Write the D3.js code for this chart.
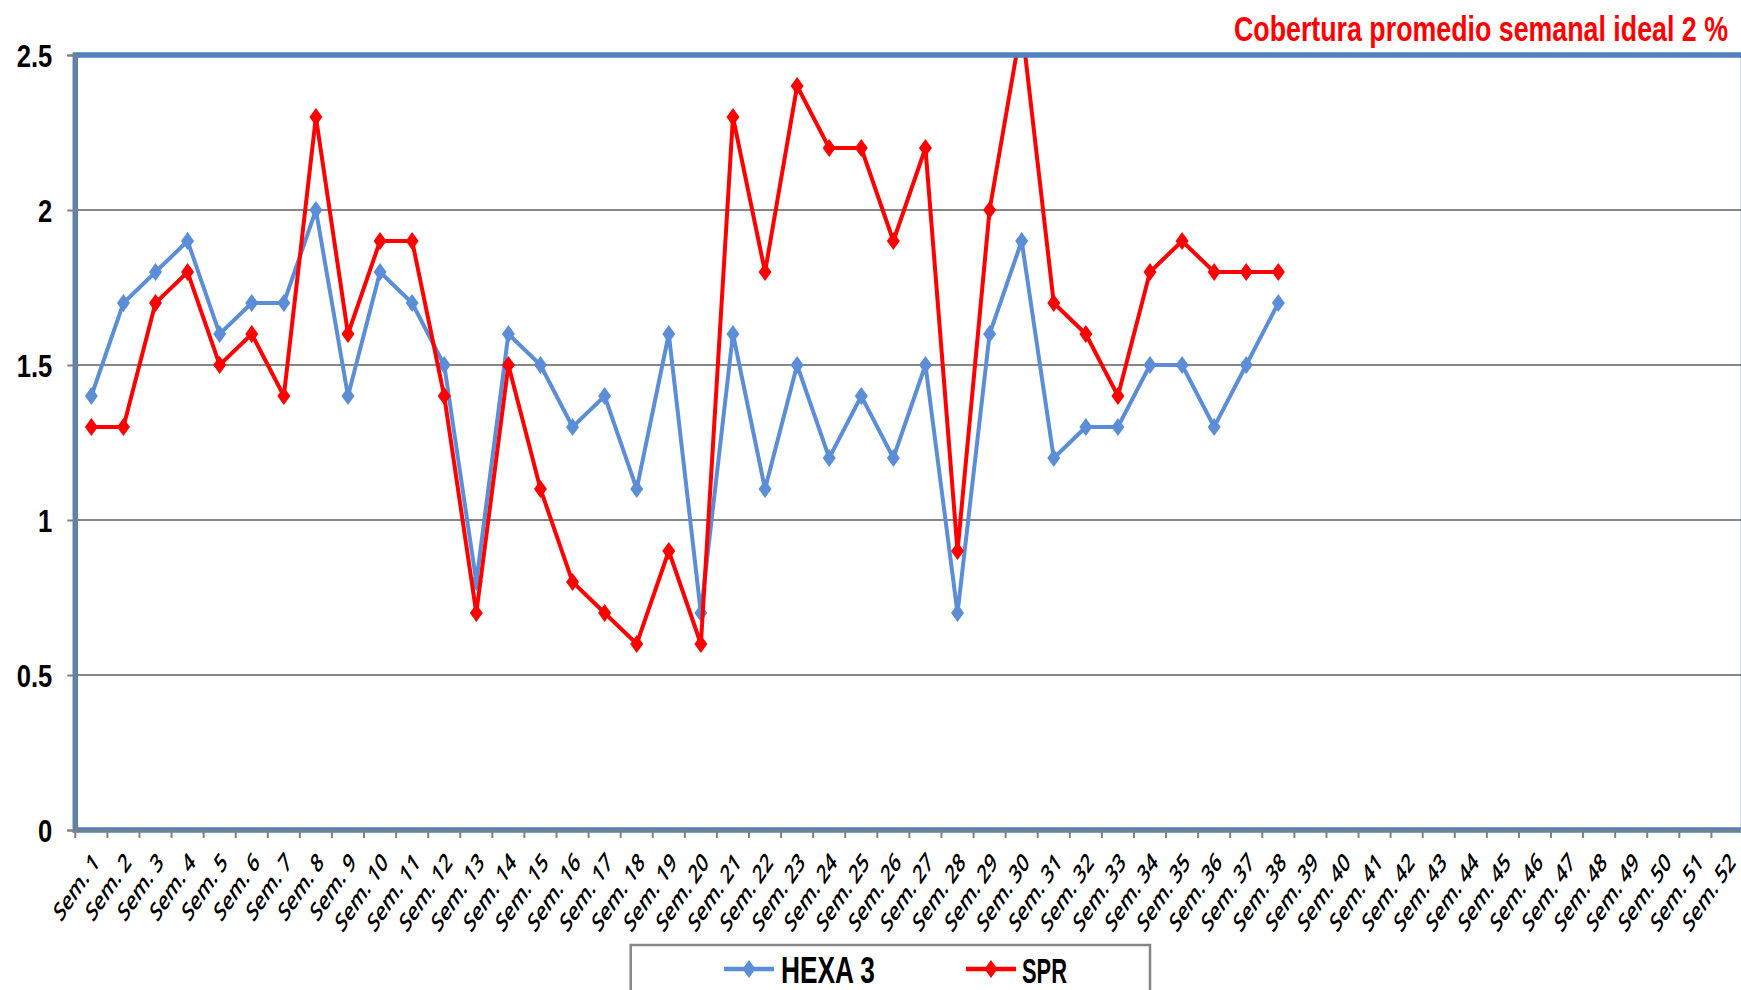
<!DOCTYPE html>
<html><head><meta charset="utf-8">
<script src="https://cdn.jsdelivr.net/npm/d3@7"></script>
<style>body{margin:0;background:#fff;overflow:hidden} svg{display:block}</style>
</head><body><svg id="c" width="1741" height="990"></svg>
<script>
const categories = ["Sem. 1","Sem. 2","Sem. 3","Sem. 4","Sem. 5","Sem. 6","Sem. 7","Sem. 8","Sem. 9","Sem. 10",
"Sem. 11","Sem. 12","Sem. 13","Sem. 14","Sem. 15","Sem. 16","Sem. 17","Sem. 18","Sem. 19","Sem. 20",
"Sem. 21","Sem. 22","Sem. 23","Sem. 24","Sem. 25","Sem. 26","Sem. 27","Sem. 28","Sem. 29","Sem. 30",
"Sem. 31","Sem. 32","Sem. 33","Sem. 34","Sem. 35","Sem. 36","Sem. 37","Sem. 38","Sem. 39","Sem. 40",
"Sem. 41","Sem. 42","Sem. 43","Sem. 44","Sem. 45","Sem. 46","Sem. 47","Sem. 48","Sem. 49","Sem. 50",
"Sem. 51","Sem. 52"];
const hexa3 = [1.4,1.7,1.8,1.9,1.6,1.7,1.7,2.0,1.4,1.8,1.7,1.5,0.8,1.6,1.5,1.3,1.4,1.1,1.6,0.7,
1.6,1.1,1.5,1.2,1.4,1.2,1.5,0.7,1.6,1.9,1.2,1.3,1.3,1.5,1.5,1.3,1.5,1.7];
const spr = [1.3,1.3,1.7,1.8,1.5,1.6,1.4,2.3,1.6,1.9,1.9,1.4,0.7,1.5,1.1,0.8,0.7,0.6,0.9,0.6,
2.3,1.8,2.4,2.2,2.2,1.9,2.2,0.9,2.0,2.6,1.7,1.6,1.4,1.8,1.9,1.8,1.8,1.8];
const yTickValues = [0,0.5,1,1.5,2,2.5];
const seriesNames = ["HEXA 3","SPR"];
const seriesColors = ["#5B8ED6","#FF0000"];
const titleText = "Cobertura promedio semanal ideal 2 %";

const svg = d3.select("#c");
const pL = 75.3, pR = 1743.5, pT = 55, pB = 830;
const x = d3.scaleBand().domain(categories).range([pL, pR]);
const y = d3.scaleLinear().domain([0, 2.5]).range([pB, pT]);
const cx = i => x(categories[i]) + x.bandwidth() / 2;

// fit a text horizontally to a target width, start at x0
function fitText(sel, x0, yb, target) {
  const w = sel.node().getComputedTextLength();
  sel.attr("x", 0).attr("y", 0)
     .attr("transform", `translate(${x0},${yb}) scale(${target / w},1)`);
}

// gridlines
svg.append("g").selectAll("line").data(yTickValues).join("line")
  .attr("x1", pL).attr("x2", pR)
  .attr("y1", d => y(d)).attr("y2", d => y(d))
  .attr("stroke", "#868686").attr("stroke-width", 2);

// clip
svg.append("clipPath").attr("id", "pc").append("rect")
  .attr("x", pL).attr("y", pT).attr("width", pR - pL).attr("height", pB - pT);

// series
const diamond = "M0,-9L6.5,0L0,9L-6.5,0Z";
[hexa3, spr].forEach((vals, si) => {
  const g = svg.append("g").attr("clip-path", "url(#pc)");
  g.append("path").datum(vals)
    .attr("d", d3.line().x((d, i) => cx(i)).y(d => y(d)))
    .attr("fill", "none").attr("stroke", seriesColors[si]).attr("stroke-width", 4)
    .attr("stroke-linejoin", "miter");
  g.selectAll("path.m").data(vals).join("path").attr("class", "m")
    .attr("d", diamond)
    .attr("transform", (d, i) => `translate(${cx(i)},${y(d)})`)
    .attr("fill", seriesColors[si]);
});

// plot border
svg.append("rect").attr("x", pL).attr("y", pT)
  .attr("width", pR - pL).attr("height", pB - pT)
  .attr("fill", "none").attr("stroke", "#4F81BD").attr("stroke-width", 5.5);

// y axis
const ya = svg.append("g").attr("transform", `translate(${pL},0)`)
  .call(d3.axisLeft(y).tickValues(yTickValues).tickSize(8).tickFormat(d => String(d)));
ya.select(".domain").attr("stroke", "#808080").attr("stroke-width", 2);
ya.selectAll(".tick line").attr("stroke", "#808080").attr("stroke-width", 2);
ya.selectAll(".tick text")
  .attr("x", 0).attr("dy", "0.36em")
  .attr("transform", "translate(-23,0) scale(0.8,1)")
  .attr("font-family", "Liberation Sans, Arial, sans-serif")
  .attr("font-weight", "bold").attr("font-size", 32).attr("fill", "#000");

// x axis
const xa = svg.append("g").attr("transform", `translate(0,${pB})`)
  .call(d3.axisBottom(x).tickSize(0));
xa.select(".domain").attr("stroke", "#808080").attr("stroke-width", 2);
xa.selectAll(".tick text")
  .attr("x", 0).attr("y", 0).attr("dy", 0)
  .attr("text-anchor", "end")
  .attr("transform", "translate(9,34) scale(1,1.5) rotate(-45)")
  .attr("font-family", "Open Sans, sans-serif")
  .attr("font-weight", 600).attr("font-size", 17.5).attr("fill", "#000");
// boundary ticks
svg.append("g").selectAll("line").data(categories.concat(["__end"])).join("line")
  .attr("x1", (d, i) => i < categories.length ? x(d) : pR)
  .attr("x2", (d, i) => i < categories.length ? x(d) : pR)
  .attr("y1", pB).attr("y2", pB + 8)
  .attr("stroke", "#808080").attr("stroke-width", 2);

// title
const tt = svg.append("text")
  .attr("font-family", "Liberation Sans, Arial, sans-serif")
  .attr("font-weight", "bold").attr("font-size", 35).attr("fill", "#FF0000")
  .text(titleText);
fitText(tt, 1234, 41, 494);

// legend
svg.append("rect").attr("x", 630.7).attr("y", 945).attr("width", 519.3).attr("height", 80)
  .attr("fill", "#fff").attr("stroke", "#868686").attr("stroke-width", 2.5);
const legendItems = [
  {x0: 724, x1: 774, tx: 781, tl: 94},
  {x0: 966, x1: 1016, tx: 1022, tl: 45}
];
legendItems.forEach((li, si) => {
  svg.append("line").attr("x1", li.x0).attr("x2", li.x1).attr("y1", 969).attr("y2", 969)
    .attr("stroke", seriesColors[si]).attr("stroke-width", 4.5);
  svg.append("path").attr("d", diamond)
    .attr("transform", `translate(${(li.x0 + li.x1) / 2},969)`).attr("fill", seriesColors[si]);
  const t = svg.append("text")
    .attr("font-family", "Liberation Sans, Arial, sans-serif")
    .attr("font-weight", "bold").attr("font-size", 36).attr("fill", "#000")
    .text(seriesNames[si]);
  fitText(t, li.tx, 983, li.tl);
});
</script></body></html>
